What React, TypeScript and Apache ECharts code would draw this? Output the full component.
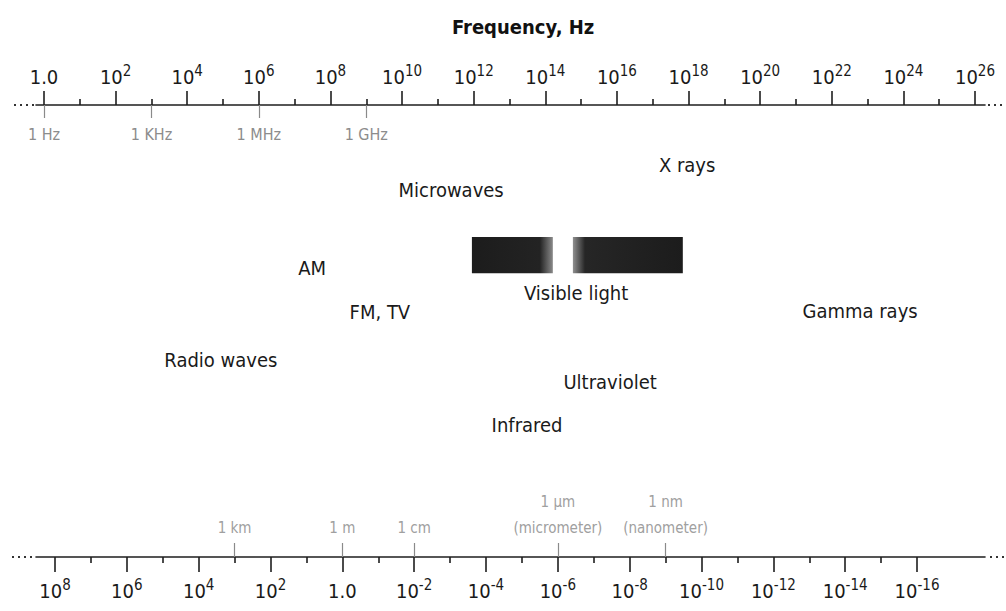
import React, { useEffect, useRef } from 'react';
import * as echarts from 'echarts';

const FONT = '"DejaVu Sans Condensed", "DejaVu Sans", sans-serif';

// Frequency axis: exponents of 10 (Hz)
const freqMajor = [0, 2, 4, 6, 8, 10, 12, 14, 16, 18, 20, 22, 24, 26];
const freqMinor = [1, 3, 5, 7, 9, 11, 13, 15, 17, 19, 21, 23, 25];
const freqUnitTicks = [0, 3, 6, 9];
const freqUnitLabels = ['1 Hz', '1 KHz', '1 MHz', '1 GHz'];

// Wavelength axis: exponents of 10 (m)
const waveMajor = [8, 6, 4, 2, 0, -2, -4, -6, -8, -10, -12, -14, -16];
const waveMinor = [7, 5, 3, 1, -1, -3, -5, -7, -9, -11, -13, -15];
const waveUnitTicks = [3, 0, -2, -6, -9];
const waveUnitLabels = ['1 km', '1 m', '1 cm', '1 \u00b5m\n(micrometer)', '1 nm\n(nanometer)'];

// Spectrum band labels: position on frequency axis (log10 Hz) and row (% from top)
const bandNames = ['Radio waves', 'AM', 'FM, TV', 'Microwaves', 'Infrared', 'Visible light', 'Ultraviolet', 'X rays', 'Gamma rays'];
const bandFreq = [4.94, 7.49, 9.38, 11.37, 13.49, 14.86, 15.81, 17.96, 22.79];
const bandRow = [56.4, 36.1, 45.8, 18.8, 70.8, 41.6, 61.3, 13.3, 45.6];

// Dark bars (log10 Hz from/to, row from/to)
const barFrom = [11.95, 14.77];
const barTo = [14.21, 17.84];
const barRowTop = [29.2, 29.2];
const barRowBottom = [37.2, 37.2];

// axis extents
const FREQ_MIN = -0.2234;
const FREQ_MAX = 26.279;
const WAVE_MIN = -17.893;
const WAVE_MAX = 8.529;

const richLabel = {
  b: { fontSize: 20, lineHeight: 24, fontFamily: FONT, color: '#1a1a1a', verticalAlign: 'bottom' },
  s: { fontSize: 15, lineHeight: 14, fontFamily: FONT, color: '#1a1a1a', verticalAlign: 'top' },
};
const powFmt = (v: number) => (v === 0 ? '{b|1.0}' : `{b|10}{s|${v}}`);

export default function App() {
  const ref = useRef<HTMLDivElement>(null);
  useEffect(() => {
    if (!ref.current) return;
    const chart = echarts.init(ref.current, null, { renderer: 'svg' });
    const axisBase = {
      type: 'value',
      splitLine: { show: false },
      axisPointer: { show: false },
    };
    const lineStyle = { color: '#1e1e1e', width: 1.6 };
    const option: any = {
      animation: false,
      backgroundColor: '#ffffff',
      title: {
        text: 'Frequency, Hz',
        left: 447,
        top: 12,
        textStyle: { fontFamily: FONT, fontSize: 20, fontWeight: 'bold', color: '#111' },
      },
      grid: { left: 36, right: 21, top: 105, bottom: 54, containLabel: false, outerBoundsMode: 'none' },
      xAxis: [
        {
          ...axisBase, position: 'top', min: FREQ_MIN, max: FREQ_MAX,
          axisLine: { show: true, onZero: false, lineStyle },
          axisTick: { show: true, customValues: freqMajor, length: 14, lineStyle },
          axisLabel: { show: true, customValues: freqMajor, formatter: powFmt, rich: richLabel, margin: 18 },
        },
        {
          ...axisBase, position: 'top', min: FREQ_MIN, max: FREQ_MAX,
          axisLine: { show: false, onZero: false },
          axisTick: { show: true, customValues: freqMinor, length: 6, lineStyle },
          axisLabel: { show: false },
        },
        {
          ...axisBase, position: 'top', min: FREQ_MIN, max: FREQ_MAX,
          axisLine: { show: false, onZero: false },
          axisTick: { show: true, inside: true, customValues: freqUnitTicks, length: 13, lineStyle: { color: '#8a8a8a', width: 1.2 } },
          axisLabel: {
            show: true, inside: true, customValues: freqUnitTicks, margin: 21,
            formatter: (v: number) => freqUnitLabels[freqUnitTicks.indexOf(v)] ?? '',
            fontFamily: FONT, fontSize: 16, color: '#8c8c8c',
          },
        },
        {
          ...axisBase, position: 'bottom', inverse: true, min: WAVE_MIN, max: WAVE_MAX,
          axisLine: { show: true, onZero: false, lineStyle },
          axisTick: { show: true, customValues: waveMajor, length: 15, lineStyle },
          axisLabel: { show: true, customValues: waveMajor, formatter: powFmt, rich: richLabel, margin: 20 },
        },
        {
          ...axisBase, position: 'bottom', inverse: true, min: WAVE_MIN, max: WAVE_MAX,
          axisLine: { show: false, onZero: false },
          axisTick: { show: true, customValues: waveMinor, length: 6, lineStyle },
          axisLabel: { show: false },
        },
        {
          ...axisBase, position: 'bottom', inverse: true, min: WAVE_MIN, max: WAVE_MAX,
          axisLine: { show: false, onZero: false },
          axisTick: { show: true, inside: true, customValues: waveUnitTicks, length: 14, lineStyle: { color: '#8a8a8a', width: 1.2 } },
          axisLabel: {
            show: true, inside: true, customValues: waveUnitTicks, margin: 16,
            formatter: (v: number) => waveUnitLabels[waveUnitTicks.indexOf(v)] ?? '',
            fontFamily: FONT, fontSize: 15, lineHeight: 26, color: '#a0a0a0',
          },
        },
      ],
      yAxis: { type: 'value', show: false, min: 0, max: 100, inverse: true, axisLine: { onZero: false } },
      graphic: [
        { type: 'line', shape: { x1: 14, y1: 105, x2: 34, y2: 105 }, style: { stroke: '#333', lineWidth: 2, lineDash: [2, 4] } },
        { type: 'line', shape: { x1: 988, y1: 105, x2: 1004, y2: 105 }, style: { stroke: '#333', lineWidth: 2, lineDash: [2, 4] } },
        { type: 'line', shape: { x1: 12, y1: 557, x2: 34, y2: 557 }, style: { stroke: '#333', lineWidth: 2, lineDash: [2, 4] } },
        { type: 'line', shape: { x1: 990, y1: 557, x2: 1006, y2: 557 }, style: { stroke: '#333', lineWidth: 2, lineDash: [2, 4] } },
      ],
      series: [
        {
          type: 'custom',
          xAxisIndex: 0,
          yAxisIndex: 0,
          data: barFrom.map((f, i) => [f, barTo[i], barRowTop[i], barRowBottom[i]]),
          renderItem: (params: any, api: any) => {
            const p0 = api.coord([api.value(0), api.value(2)]);
            const p1 = api.coord([api.value(1), api.value(3)]);
            const fadeRight = params.dataIndex === 0;
            const fill = new echarts.graphic.LinearGradient(0, 0, 1, 0, fadeRight
              ? [{ offset: 0, color: '#1c1c1c' }, { offset: 0.84, color: '#232323' }, { offset: 1, color: '#8a8a8a' }]
              : [{ offset: 0, color: '#909090' }, { offset: 0.11, color: '#262626' }, { offset: 1, color: '#1c1c1c' }]);
            return {
              type: 'rect',
              shape: { x: p0[0], y: p0[1], width: p1[0] - p0[0], height: p1[1] - p0[1] },
              style: { fill },
            };
          },
        },
        {
          type: 'custom',
          xAxisIndex: 0,
          yAxisIndex: 0,
          data: bandNames.map((n, i) => ({ name: n, value: [bandFreq[i], bandRow[i]] })),
          renderItem: (params: any, api: any) => {
            const p = api.coord([api.value(0), api.value(1)]);
            return {
              type: 'text',
              x: p[0],
              y: p[1],
              style: {
                text: bandNames[params.dataIndex],
                align: 'center',
                verticalAlign: 'middle',
                fontFamily: FONT,
                fontSize: 20,
                fill: '#1a1a1a',
              },
            };
          },
        },
      ],
    };
    chart.setOption(option);
    return () => chart.dispose();
  }, []);
  return <div ref={ref} style={{ position: 'fixed', left: 0, top: 0, width: 1006, height: 611, background: '#fff' }} />;
}
